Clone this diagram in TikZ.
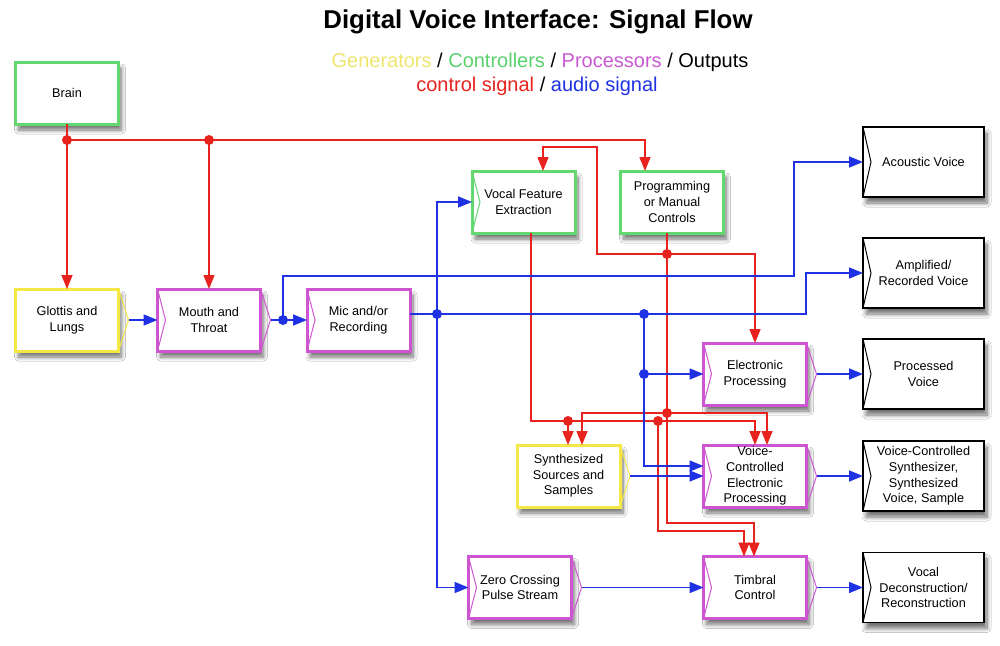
\documentclass[tikz,border=0pt]{standalone}
\usepackage{fontspec}
\setmainfont{Liberation Sans}
\usetikzlibrary{arrows.meta,shadows.blur}
\definecolor{cyel}{RGB}{245,232,70}
\definecolor{cgrn}{RGB}{100,215,110}
\definecolor{cmag}{RGB}{205,85,210}
\definecolor{cred}{RGB}{232,35,30}
\definecolor{cblu}{RGB}{30,50,228}
\definecolor{tyel}{RGB}{238,230,110}
\definecolor{tgrn}{RGB}{90,210,110}
\definecolor{tmag}{RGB}{200,90,210}
\newcommand\mknotch[2]{\draw[#2, line width=1pt] (#1.north west) -- ([xshift=8pt]#1.west) -- (#1.south west);}
\newcommand\mkpoint[2]{\coordinate (#1-tip) at ([xshift=10pt]#1.east);\draw[#2, line width=1pt] (#1.north east) -- (#1-tip) -- (#1.south east);}
\begin{document}
\begin{tikzpicture}[x=1pt,y=-1pt,
  box/.style={draw, line width=3pt, minimum width=103pt, minimum height=62pt, inner sep=0pt, outer sep=0pt, fill=white, align=center, font=\fontsize{12.7}{15.7}\selectfont,
    blur shadow={shadow xshift=3pt, shadow yshift=-6pt, shadow blur radius=4pt, shadow blur steps=10, shadow opacity=55}},
  gen/.style={box, draw=cyel},
  ctl/.style={box, draw=cgrn},
  proc/.style={box, draw=cmag},
  outbox/.style={box, draw=black, line width=1.3pt, minimum width=121pt, minimum height=70pt},
  ctrl/.style={draw=cred, line width=1.5pt},
  aud/.style={draw=cblu, line width=1.5pt},
  arr/.style={-{Triangle[length=14pt,width=11pt]}},
]
\fill[white] (0,0) rectangle (1000,645);
\useasboundingbox (0,0) rectangle (1000,645);

% titles
\node[anchor=base, font=\bfseries\fontsize{25.8}{30}\selectfont] (title) at (538,28) {Digital Voice Interface: Signal Flow};
\node[anchor=base, font=\fontsize{20}{24}\selectfont] (leg1) at (540,67) {\textcolor{tyel}{Generators} / \textcolor{tgrn}{Controllers} / \textcolor{tmag}{Processors} / Outputs};
\node[anchor=base, font=\fontsize{20}{24}\selectfont] (leg2) at (537,91) {\textcolor{cred}{control signal} / \textcolor{cblu}{audio signal}};

% boxes
\node[ctl] (brain) at (67,93) {Brain};
\node[gen] (glottis) at (67,320) {Glottis and\\Lungs};
\node[proc] (mouth) at (209,320) {Mouth and\\Throat};
\node[proc] (mic) at (358.5,320) {Mic and/or\\Recording};
\node[ctl] (vfe) at (523.5,202) {Vocal Feature\\Extraction};
\node[ctl] (prog) at (672,202) {Programming\\or Manual\\Controls};
\node[proc] (ep) at (755,374) {Electronic\\Processing};
\node[gen] (synth) at (568.5,476) {Synthesized\\Sources and\\Samples};
\node[proc] (vc) at (755,476) {Voice-\\Controlled\\Electronic\\Processing};
\node[proc] (zc) at (520,587.5) {Zero Crossing\\Pulse Stream};
\node[proc] (timbral) at (755,587.5) {Timbral\\Control};

\node[outbox] (acoustic) at (923.5,162) {Acoustic Voice};
\node[outbox] (amplified) at (923.5,273) {Amplified/\\Recorded Voice};
\node[outbox] (processed) at (923.5,374) {Processed\\Voice};
\node[outbox] (vcsynth) at (923.5,476) {Voice-Controlled\\Synthesizer,\\Synthesized\\Voice, Sample};
\node[outbox] (vocal) at (923.5,587.5) {Vocal\\Deconstruction/\\Reconstruction};

% chevrons
\mkpoint{glottis}{cyel}
\mkpoint{synth}{cyel}
\mknotch{mouth}{cmag}\mkpoint{mouth}{cmag}
\mknotch{mic}{cmag}
\mknotch{vfe}{cgrn}
\mknotch{ep}{cmag}\mkpoint{ep}{cmag}
\mknotch{vc}{cmag}\mkpoint{vc}{cmag}
\mknotch{zc}{cmag}\mkpoint{zc}{cmag}
\mknotch{timbral}{cmag}\mkpoint{timbral}{cmag}
\foreach \n in {acoustic,amplified,processed,vcsynth,vocal}{\mknotch{\n}{black}}

% control signals (red)
\coordinate (j1) at (67,140);
\coordinate (j2) at (209,140);
\coordinate (progout) at ([xshift=-5pt]prog.south);
\coordinate (j3) at (667,254);
\coordinate (j4) at (667,413);
\coordinate (vfeout) at ([xshift=7.5pt]vfe.south);
\coordinate (j5) at (568,421);
\coordinate (j6) at (658,421);

\draw[ctrl] (brain.south) -- (j1);
\draw[ctrl,arr] (j1) -- (glottis.north);
\draw[ctrl] (j1) -- (j2);
\draw[ctrl,arr] (j2) -- (mouth.north);
\draw[ctrl,arr] (j2) -| ([xshift=-27pt]prog.north);
\draw[ctrl] (progout) -- (j3);
\draw[ctrl,arr] (j3) -- (597,254) -- (597,147) -| ([xshift=19.5pt]vfe.north);
\draw[ctrl,arr] (j3) -| (ep.north);
\draw[ctrl] (j3) -- (j4);
\draw[ctrl,arr] (j4) -| ([xshift=13.5pt]synth.north);
\draw[ctrl,arr] (j4) -| ([xshift=12pt]vc.north);
\draw[ctrl,arr] (j4) -- (667,523) -| ([xshift=-1pt]timbral.north);
\draw[ctrl] (vfeout) |- (j5);
\draw[ctrl,arr] (j5) -- ([xshift=-0.5pt]synth.north);
\draw[ctrl] (j5) -- (j6);
\draw[ctrl,arr] (j6) -| (vc.north);
\draw[ctrl,arr] (j6) -- (658,531) -| ([xshift=-11pt]timbral.north);
\foreach \j in {j1,j2,j3,j4,j5,j6}{\fill[cred] (\j) circle (5pt);}

% audio signals (blue)
\coordinate (b1) at (283,320);
\coordinate (micout) at ([yshift=6pt]mic.east);
\coordinate (b2) at (437,314);
\coordinate (b3) at (644,314);
\coordinate (b4) at (644,374);

\draw[aud,arr] (glottis-tip) -- (mouth.west);
\draw[aud] (mouth-tip) -- (b1);
\draw[aud,arr] (b1) -- (mic.west);
\draw[aud,arr] (b1) |- (794,276) |- (acoustic.west);
\draw[aud] (micout) -- (b2) -- (b3);
\draw[aud,arr] (b3) -- (806,314) |- (amplified.west);
\draw[aud,arr] (b2) |- (vfe.west);
\draw[aud,arr] (b2) |- (zc.west);
\draw[aud] (b3) -- (b4);
\draw[aud,arr] (b4) -- (ep.west);
\draw[aud,arr] (b4) |- ([yshift=10pt]vc.west);
\draw[aud,arr] (synth-tip) -- (vc.west);
\draw[aud,arr] (zc-tip) -- (timbral.west);
\draw[aud,arr] (ep-tip) -- (processed.west);
\draw[aud,arr] (vc-tip) -- (vcsynth.west);
\draw[aud,arr] (timbral-tip) -- (vocal.west);
\foreach \b in {b1,b2,b3,b4}{\fill[cblu] (\b) circle (5pt);}
\end{tikzpicture}
\end{document}
